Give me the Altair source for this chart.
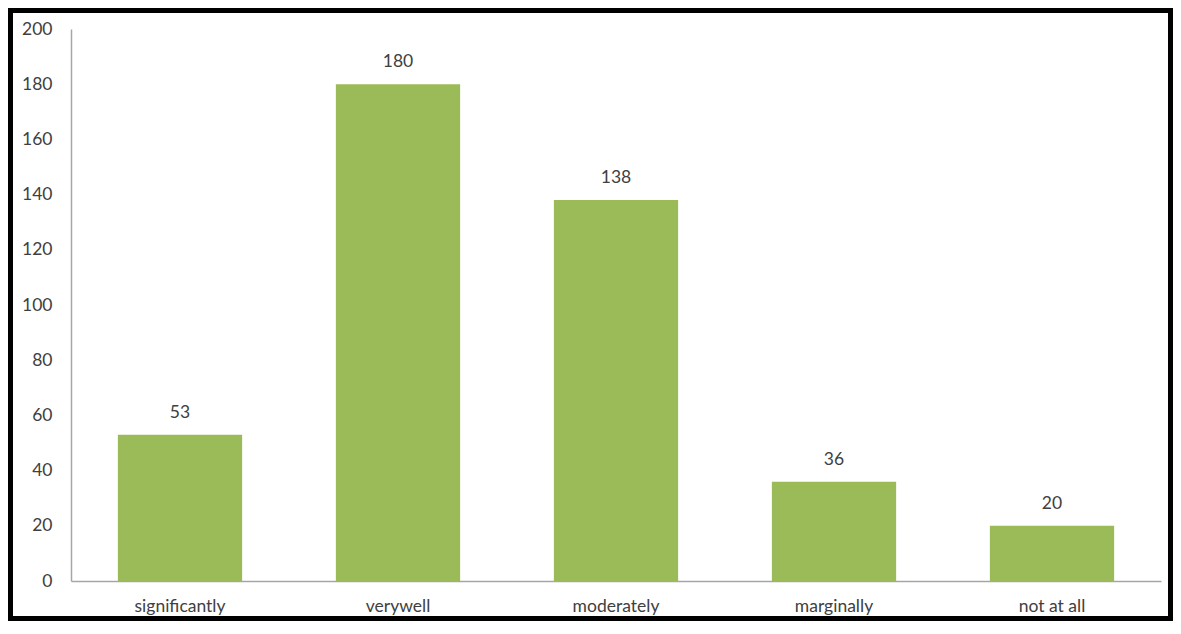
import altair as alt
import pandas as pd

categories = ["significantly", "verywell", "moderately", "marginally", "not at all"]
values = [53, 180, 138, 36, 20]

df = pd.DataFrame({"category": categories, "value": values})

W, H = 1090, 552
PL, PT, PR, PB = 63, 21, 12, 40
FONT = "Lato"
FS = 17.5

x = alt.X("category:N", sort=categories, title=None,
          scale=alt.Scale(paddingInner=0.43, paddingOuter=0.215),
          axis=alt.Axis(labelAngle=0, ticks=False, labelPadding=16, domainColor="#A6A6A6",
                        domainWidth=1.5, labelFont=FONT, labelFontSize=FS, labelColor="#404040"))
y = alt.Y("value:Q", title=None,
          scale=alt.Scale(domain=[0, 200], nice=False),
          axis=alt.Axis(values=list(range(0, 201, 20)), grid=False, ticks=False, labelPadding=19,
                        domainColor="#A6A6A6", domainWidth=1.5, labelFont=FONT, labelFontSize=FS,
                        labelColor="#404040"))

bars = alt.Chart(df).mark_bar(color="#9BBB59").encode(x=x, y=y)
labels = alt.Chart(df).mark_text(dy=-22, font=FONT, fontSize=FS, color="#404040").encode(
    x=alt.X("category:N", sort=categories), y="value:Q", text="value:Q")

frame = alt.Chart(pd.DataFrame({"a": [0]})).mark_rect(
    filled=False, stroke="black", strokeWidth=5, clip=False).encode(
    x=alt.value(-PL + 2.5), x2=alt.value(W + PR - 2.5),
    y=alt.value(-PT + 2.5), y2=alt.value(H + PB - 2.5))

chart = alt.layer(bars, labels, frame).properties(
    width=W, height=H, padding={"left": PL, "top": PT, "right": PR, "bottom": PB},
    autosize=alt.AutoSizeParams(type="none"),
    background="white"
).configure_view(stroke=None)

chart.save("out.html", embed_options={"renderer": "svg", "actions": False})
